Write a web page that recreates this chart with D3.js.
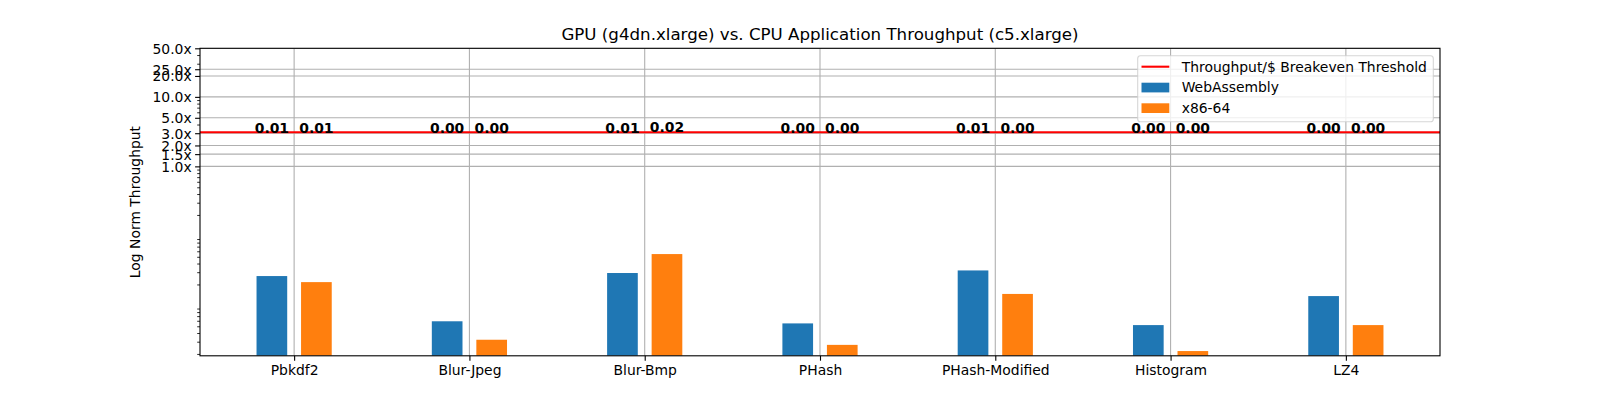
<!DOCTYPE html>
<html>
<head>
<meta charset="utf-8">
<script src="https://cdn.jsdelivr.net/npm/d3@7"></script>
<style>
  html, body { margin: 0; padding: 0; background: #fff; }
  svg { display: block; font-family: "DejaVu Sans", sans-serif; }
</style>
</head>
<body>
<svg id="chart" width="1600" height="400"></svg>
<script>
const categories = ["Pbkdf2", "Blur-Jpeg", "Blur-Bmp", "PHash", "PHash-Modified", "Histogram", "LZ4"];
const wasmValues = [0.0264, 0.0059, 0.0292, 0.0055, 0.0318, 0.0052, 0.0136];
const x86Values  = [0.0216, 0.0032, 0.0547, 0.0027, 0.0146, 0.0022, 0.0052];
const wasmLabels = ["0.01", "0.00", "0.01", "0.00", "0.01", "0.00", "0.00"];
const x86Labels  = ["0.01", "0.00", "0.02", "0.00", "0.00", "0.00", "0.00"];
const yTickValues = [1, 1.5, 2, 3, 5, 10, 20, 25, 50];
const yTickLabels = ["1.0x", "1.5x", "2.0x", "3.0x", "5.0x", "10.0x", "20.0x", "25.0x", "50.0x"];
const threshold = 3.1;
const seriesNames = ["WebAssembly", "x86-64"];
const thresholdName = "Throughput/$ Breakeven Threshold";
const titleText = "GPU (g4dn.xlarge) vs. CPU Application Throughput (c5.xlarge)";
const yLabelText = "Log Norm Throughput";

const colors = { wasm: "#1f77b4", x86: "#ff7f0e", red: "#ff0000", grid: "#b0b0b0" };

const L = 200, R = 1440, T = 48.3, B = 355.8;
const svg = d3.select("#chart");

const x = d3.scaleLinear().domain([-0.537, 6.537]).range([L, R]);
const y = d3.scaleLog().domain([0.00188, 50]).range([B, T]);
const barW = 0.175, off = 0.127;

svg.append("defs").append("clipPath").attr("id", "clip")
  .append("rect").attr("x", L).attr("y", T).attr("width", R - L).attr("height", B - T);

const plot = svg.append("g").attr("clip-path", "url(#clip)");

// bars
const idx = categories.map((c, i) => i);
plot.selectAll("rect.wasm").data(idx).enter().append("rect")
  .attr("x", i => x(i - off - barW / 2))
  .attr("width", i => x(i - off + barW / 2) - x(i - off - barW / 2))
  .attr("y", i => y(wasmValues[i]))
  .attr("height", i => B - y(wasmValues[i]))
  .attr("fill", colors.wasm);
plot.selectAll("rect.x86").data(idx).enter().append("rect")
  .attr("x", i => x(i + off - barW / 2))
  .attr("width", i => x(i + off + barW / 2) - x(i + off - barW / 2))
  .attr("y", i => y(x86Values[i]))
  .attr("height", i => B - y(x86Values[i]))
  .attr("fill", colors.x86);

// grid
plot.selectAll("line.gy").data(yTickValues).enter().append("line")
  .attr("x1", L).attr("x2", R)
  .attr("y1", d => y(d)).attr("y2", d => y(d))
  .attr("stroke", colors.grid).attr("stroke-width", 1.1);
plot.selectAll("line.gx").data(idx).enter().append("line")
  .attr("y1", T).attr("y2", B)
  .attr("x1", d => x(d)).attr("x2", d => x(d))
  .attr("stroke", colors.grid).attr("stroke-width", 1.1);

// threshold line
plot.append("line")
  .attr("x1", L).attr("x2", R)
  .attr("y1", y(threshold)).attr("y2", y(threshold))
  .attr("stroke", colors.red).attr("stroke-width", 2.1);

// value labels
const labG = svg.append("g").attr("font-size", "13.9px").attr("font-weight", "bold")
  .attr("text-anchor", "middle").attr("fill", "#000");
idx.forEach(i => {
  labG.append("text").attr("x", x(i - off)).attr("y", Math.round(y(threshold * (1 + wasmValues[i])) + 1.3))
    .text(wasmLabels[i]);
  labG.append("text").attr("x", x(i + off)).attr("y", Math.round(y(threshold * (1 + x86Values[i])) + 1.3))
    .text(x86Labels[i]);
});

// minor ticks on y
const minorVals = [];
for (let e = -3; e <= 1; e++) {
  for (let k = 2; k <= 9; k++) {
    const v = k * Math.pow(10, e);
    if (v >= 0.00188 && v <= 50 && !yTickValues.some(t => Math.abs(t - v) < 1e-9)) minorVals.push(v);
  }
}
const yMinor = svg.append("g").attr("transform", `translate(${L},0)`)
  .call(d3.axisLeft(y).tickValues(minorVals).tickSize(2.8).tickFormat(""));
yMinor.select(".domain").remove();
yMinor.selectAll("line").attr("stroke", "#000").attr("stroke-width", 0.83);

// major y axis
const yAxis = svg.append("g").attr("transform", `translate(${L},0)`)
  .call(d3.axisLeft(y).tickValues(yTickValues).tickSize(4.9).tickPadding(3.5)
    .tickFormat((d, i) => yTickLabels[i]));
yAxis.select(".domain").remove();
yAxis.selectAll("line").attr("stroke", "#000").attr("stroke-width", 1.1);
yAxis.selectAll("text").attr("font-size", "13.9px").attr("font-family", "DejaVu Sans")
  .attr("fill", "#000").attr("dy", "0.36em");

// x axis
const xAxis = svg.append("g").attr("transform", `translate(0,${B})`)
  .call(d3.axisBottom(x).tickValues(idx).tickSize(4.9).tickPadding(3.5)
    .tickFormat(i => categories[i]));
xAxis.select(".domain").remove();
xAxis.selectAll("line").attr("stroke", "#000").attr("stroke-width", 1.1);
xAxis.selectAll("text").attr("font-size", "13.9px").attr("font-family", "DejaVu Sans")
  .attr("fill", "#000").attr("dy", "0.76em");

// spines
svg.append("rect").attr("x", L).attr("y", T).attr("width", R - L).attr("height", B - T)
  .attr("fill", "none").attr("stroke", "#000").attr("stroke-width", 1.1);

// title
svg.append("text").attr("x", (L + R) / 2).attr("y", 39.7).attr("text-anchor", "middle")
  .attr("font-size", "16.67px").attr("fill", "#000").text(titleText);

// y label
svg.append("text").attr("transform", `translate(140,${(T + B) / 2}) rotate(-90)`)
  .attr("text-anchor", "middle").attr("font-size", "13.9px").attr("fill", "#000")
  .text(yLabelText);

// legend
const lg = svg.append("g");
lg.append("rect").attr("x", 1137.7).attr("y", 55.7).attr("width", 295.6).attr("height", 66)
  .attr("rx", 2.8).attr("fill", "rgba(255,255,255,0.8)")
  .attr("stroke", "rgba(204,204,204,0.8)").attr("stroke-width", 1.1);
lg.append("line").attr("x1", 1141.5).attr("x2", 1169.3).attr("y1", 66.7).attr("y2", 66.7)
  .attr("stroke", colors.red).attr("stroke-width", 2.1);
lg.append("rect").attr("x", 1141.5).attr("y", 82.7).attr("width", 27.8).attr("height", 9.7).attr("fill", colors.wasm);
lg.append("rect").attr("x", 1141.5).attr("y", 103.3).attr("width", 27.8).attr("height", 9.7).attr("fill", colors.x86);
const legTexts = [thresholdName].concat(seriesNames);
lg.selectAll("text.lt").data(legTexts).enter().append("text")
  .attr("x", 1181.7).attr("y", (d, i) => 71.5 + i * 20.6)
  .attr("font-size", "13.9px").attr("fill", "#000").text(d => d);
</script>
</body>
</html>
